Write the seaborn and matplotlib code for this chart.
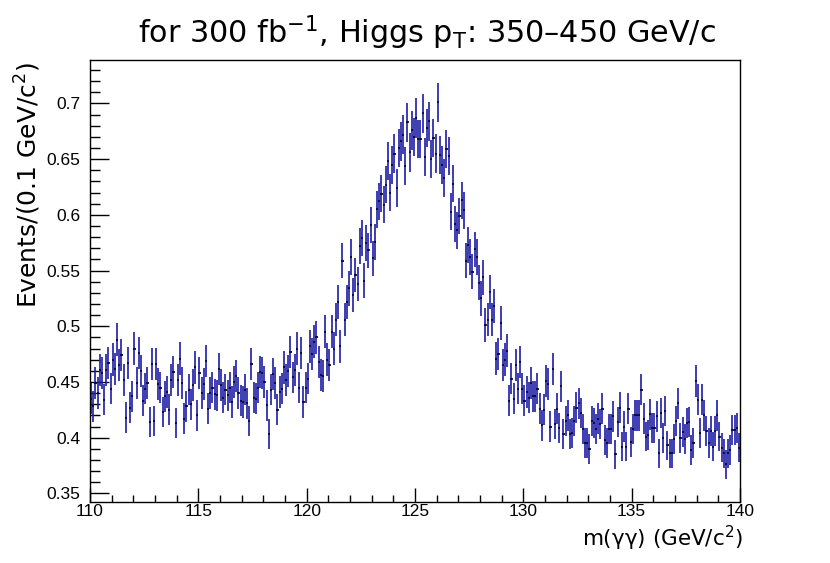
import numpy as np
import pandas as pd
import matplotlib
matplotlib.use("Agg")
import matplotlib.pyplot as plt
import seaborn as sns
from matplotlib.ticker import MultipleLocator

# ---- data ----
x_min, x_max, bin_width = 110.0, 140.0, 0.1
events_part1 = [  # bins 110.0 - 115.0
    0.435, 0.428, 0.449, 0.440, 0.461, 0.458, 0.434, 0.461, 0.467, 0.444,
    0.470, 0.462, 0.488, 0.465, 0.474, 0.452, 0.418, 0.467, 0.427, 0.437,
    0.480, 0.449, 0.476, 0.460, 0.433, 0.444, 0.449, 0.414, 0.466, 0.415,
    0.466, 0.448, 0.445, 0.423, 0.437, 0.441, 0.425, 0.452, 0.459, 0.413,
    0.452, 0.471, 0.449, 0.417, 0.428, 0.443, 0.430, 0.447, 0.463, 0.420,
]
events_part2 = [  # bins 115.0 - 120.0
    0.458, 0.440, 0.448, 0.469, 0.426, 0.440, 0.445, 0.439, 0.438, 0.462,
    0.447, 0.436, 0.443, 0.438, 0.445, 0.432, 0.450, 0.455, 0.440, 0.433,
    0.432, 0.443, 0.431, 0.415, 0.466, 0.436, 0.435, 0.445, 0.459, 0.458,
    0.450, 0.429, 0.403, 0.443, 0.457, 0.449, 0.425, 0.441, 0.444, 0.463,
    0.452, 0.460, 0.477, 0.454, 0.461, 0.480, 0.445, 0.476, 0.432, 0.445,
]
events_part3 = [  # bins 120.0 - 125.0
    0.453, 0.482, 0.475, 0.486, 0.490, 0.468, 0.456, 0.455, 0.495, 0.470,
    0.465, 0.495, 0.480, 0.506, 0.522, 0.482, 0.559, 0.506, 0.522, 0.534,
    0.562, 0.528, 0.546, 0.538, 0.572, 0.579, 0.541, 0.575, 0.568, 0.591,
    0.561, 0.576, 0.605, 0.612, 0.619, 0.609, 0.627, 0.648, 0.620, 0.645,
    0.655, 0.624, 0.660, 0.666, 0.672, 0.644, 0.683, 0.656, 0.676, 0.670,
]
events_part4 = [  # bins 125.0 - 130.0
    0.687, 0.668, 0.668, 0.691, 0.652, 0.678, 0.684, 0.650, 0.669, 0.655,
    0.701, 0.654, 0.645, 0.633, 0.659, 0.653, 0.603, 0.628, 0.592, 0.586,
    0.599, 0.613, 0.604, 0.559, 0.573, 0.562, 0.549, 0.569, 0.562, 0.539,
    0.525, 0.544, 0.501, 0.506, 0.531, 0.506, 0.518, 0.471, 0.475, 0.503,
    0.465, 0.470, 0.478, 0.433, 0.453, 0.435, 0.465, 0.444, 0.468, 0.444,
]
events_part5 = [  # bins 130.0 - 135.0
    0.433, 0.441, 0.436, 0.449, 0.437, 0.437, 0.444, 0.426, 0.411, 0.425,
    0.451, 0.448, 0.410, 0.462, 0.412, 0.426, 0.409, 0.446, 0.403, 0.415,
    0.420, 0.403, 0.404, 0.415, 0.427, 0.431, 0.422, 0.408, 0.395, 0.395,
    0.390, 0.415, 0.413, 0.408, 0.417, 0.412, 0.426, 0.398, 0.395, 0.408,
    0.408, 0.419, 0.385, 0.414, 0.427, 0.392, 0.410, 0.392, 0.426, 0.396,
]
events_part6 = [  # bins 135.0 - 140.0
    0.408, 0.420, 0.420, 0.420, 0.443, 0.417, 0.401, 0.402, 0.421, 0.409,
    0.409, 0.419, 0.386, 0.422, 0.400, 0.424, 0.393, 0.386, 0.386, 0.399,
    0.415, 0.431, 0.400, 0.405, 0.399, 0.413, 0.414, 0.389, 0.395, 0.451,
    0.434, 0.404, 0.434, 0.420, 0.406, 0.395, 0.406, 0.392, 0.406, 0.420,
    0.401, 0.391, 0.386, 0.376, 0.386, 0.389, 0.407, 0.407, 0.409, 0.391,
]
events = np.array(events_part1 + events_part2 + events_part3 +
                  events_part4 + events_part5 + events_part6)
n_bins = int(round((x_max - x_min) / bin_width))
assert len(events) == n_bins
bin_centers = x_min + bin_width * (np.arange(n_bins) + 0.5)
# statistical (weighted Poisson) uncertainty on each bin
event_errors = 0.0212 * np.sqrt(events)

title_text = "for 300 fb$^{-1}$, Higgs p$_{\\mathregular{T}}$: 350\u2013450 GeV/c"
xlabel_text = "m(\u03b3\u03b3) (GeV/c$^{2}$)"
ylabel_text = "Events/(0.1 GeV/c$^{2}$)"
y_ticks = [0.35, 0.40, 0.45, 0.50, 0.55, 0.60, 0.65, 0.70]
y_tick_labels = ["0.35", "0.4", "0.45", "0.5", "0.55", "0.6", "0.65", "0.7"]
x_ticks = [110, 115, 120, 125, 130, 135, 140]

df = pd.DataFrame({"mass": bin_centers, "events": events, "err": event_errors})

# ---- style ----
sns.set_theme(style="white")
plt.rcParams["font.family"] = ["DejaVu Sans"]
plt.rcParams["mathtext.fontset"] = "dejavusans"

W, H = 830, 563
fig = plt.figure(figsize=(W / 100, H / 100), dpi=100)
fig.patch.set_facecolor("white")
ax_l, ax_r, ax_t, ax_b = 90, 740, 60, 501.7
ax = fig.add_axes([ax_l / W, 1 - ax_b / H, (ax_r - ax_l) / W, (ax_b - ax_t) / H])
ax.set_facecolor("white")

col = "#1c1ca6"
ax.errorbar(df["mass"], df["events"], yerr=df["err"],
            fmt="none", ecolor=col, elinewidth=1.2, capsize=0, zorder=2)
ax.errorbar(df["mass"], df["events"], xerr=bin_width / 2,
            fmt="none", ecolor="#0a0a40", elinewidth=1.3, capsize=0, zorder=3)
sns.scatterplot(data=df, x="mass", y="events", ax=ax, s=1.0, color="#0a0a40",
                edgecolor="none", linewidth=0, legend=False, zorder=4)

ax.set_xlim(x_min, x_max)
ax.set_ylim(0.3425, 0.739)
ax.set_xlabel("")
ax.set_ylabel("")

ax.xaxis.set_major_locator(MultipleLocator(5))
ax.xaxis.set_minor_locator(MultipleLocator(1))
ax.set_xticks(x_ticks)
ax.set_xticklabels([str(t) for t in x_ticks])
ax.set_yticks(y_ticks)
ax.set_yticklabels(y_tick_labels)
ax.yaxis.set_minor_locator(MultipleLocator(0.01))

tick_font = "Liberation Sans"
for lab in ax.get_xticklabels() + ax.get_yticklabels():
    lab.set_fontfamily(tick_font)
    lab.set_fontsize(12.5)

ax.tick_params(axis="y", which="major", direction="in", length=14, width=1.0,
               color="black", pad=7, left=True, right=False, labelcolor="black")
ax.tick_params(axis="y", which="minor", direction="in", length=7, width=1.0,
               color="black", left=True, right=False)
ax.tick_params(axis="x", which="major", direction="in", length=10, width=1.0,
               color="black", pad=1.5, bottom=True, top=False, labelcolor="black")
ax.tick_params(axis="x", which="minor", direction="in", length=5, width=1.0,
               color="black", bottom=True, top=False)
for s in ax.spines.values():
    s.set_visible(True)
    s.set_color("black")
    s.set_linewidth(1.0)
ax.grid(False)

fig.text(427 / W, 1 - 33 / H, title_text, ha="center", va="center",
         fontsize=21.8, color="black")
fig.text(743 / W, 1 - 538 / H, xlabel_text, ha="right", va="center",
         fontsize=15.5, color="black")
fig.text(28 / W, 1 - 62 / H, ylabel_text, ha="center", va="top",
         rotation=90, fontsize=18, color="black")

fig.savefig("out.png", dpi=100, facecolor="white")
